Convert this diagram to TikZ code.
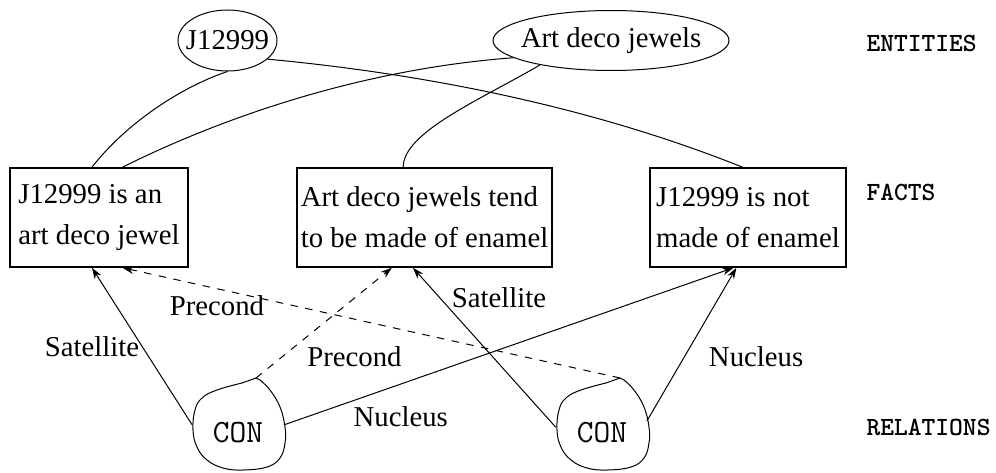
\documentclass[tikz,border=0pt]{standalone}
\usepackage{fontspec}
\setmainfont{Liberation Serif}
\usepackage{tikz}
\usetikzlibrary{arrows.meta,positioning,shapes}

\begin{document}
\begin{tikzpicture}[x=0.4pt, y=-0.4pt, thin,
                    >={Stealth[length=4.5pt,width=3pt]},
                    every node/.style={font=\fontsize{11.5}{16.4}\selectfont},
                    entity/.style={draw, ellipse, inner sep=0pt},
                    fact/.style={draw, rectangle, line width=0.6pt, align=left,
                                 minimum height=39.6pt, inner xsep=1pt},
                    relation/.style={circle, inner sep=0pt, minimum size=36.8pt,
                                     font=\ttfamily\fontsize{13}{13}\selectfont},
                    layername/.style={anchor=west, inner xsep=0pt,
                                      font=\ttfamily\bfseries\fontsize{10.5}{10.5}\selectfont},
                    lbl/.style={inner sep=1pt},
                    precond/.style={->, dash pattern=on 3pt off 3pt},
                    conblob/.pic={
                        \draw (18,-55) -- plot[smooth, tension=0.7] coordinates {
                            (4,-50) (-21,-43) (-36,-35) (-43,-23) (-45,-3) (-41,14)
                            (-31,27) (-15,35) (5,37) (29,34) (42,25) (47,10)
                            (47,-6) (42,-26) (32,-43) (22,-53)} -- cycle;
                        \coordinate (-peak) at (18,-55);
                    }]
    \useasboundingbox (0,0) rectangle (996,473);

    % entities
    \node[entity, minimum width=39.6pt, minimum height=24.4pt,
          label={center:J12999}] (jewel) at (227.5,40.5) {};
    \node[entity, minimum width=94.4pt, minimum height=24pt,
          label={center:Art deco jewels}] (artdeco) at (611,40.5) {};

    % facts
    \node[fact, minimum width=71.2pt] (isjewel) at (99,217.5) {J12999 is an\\art deco jewel};
    \node[fact, minimum width=102pt] (enamelrule) at (424.5,217.5) {Art deco jewels tend\\to be made of enamel};
    \node[fact, minimum width=78.4pt] (notenamel) at (748,217.5) {J12999 is not\\made of enamel};

    % relations
    \node[relation] (conA) at (238,433) {CON};
    \node[relation] (conB) at (602,433) {CON};
    \pic (conA) at (conA) {conblob};
    \pic (conB) at (conB) {conblob};

    \node[layername] (entities) at (866,43) {ENTITIES};
    \node[layername] (facts) at (866,192) {FACTS};
    \node[layername] (relations) at (866,427) {RELATIONS};

    \draw (jewel.south) .. controls +(-45,15) and +(35,-45) .. (isjewel.98);
    \draw (jewel.335) .. controls +(160,15) and +(-150,-60) .. (notenamel.96);
    \draw (artdeco.190) .. controls +(-160,12) and +(90,-45) .. (isjewel.65);
    \draw (artdeco.199) .. controls +(-60,35) and +(0,-35) .. (enamelrule.113);

    \draw[->] (conA.170) -- node[lbl, left] (satA) {Satellite} (isjewel.262);
    \draw[precond] (conA-peak) -- node[lbl, pos=0.19, right=9pt] (preA) {Precond} (enamelrule.237);
    \draw[->] (conA.10) -- node[lbl, pos=0.26, below=7.7pt] (nucA) {Nucleus} (notenamel.254);
    \draw[->] (conB.173) -- node[lbl, pos=0.81, right=3.5pt] (satB) {Satellite} (enamelrule.257);
    \draw[precond] (conB-peak) -- node[lbl, pos=0.81, below=1.5pt] (preB) {Precond} (isjewel.295);
    \draw[->] (conB.15) -- node[lbl, pos=0.42, right=8.6pt] (nucB) {Nucleus} (notenamel.257);
\end{tikzpicture}
\end{document}
